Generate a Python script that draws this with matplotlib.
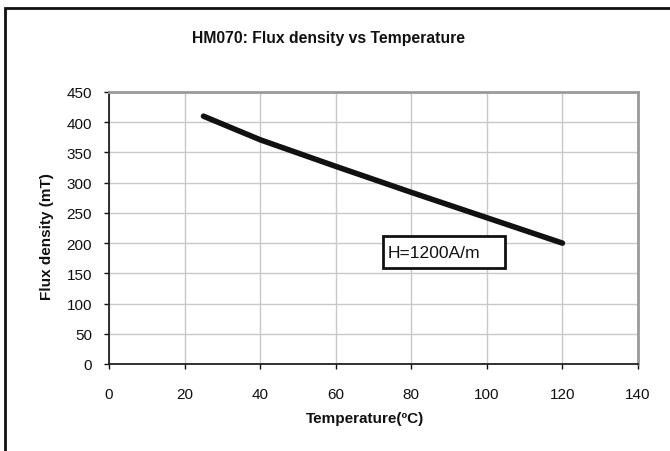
import matplotlib.pyplot as plt
from matplotlib.patches import Rectangle

plt.rcParams['font.family'] = ['Liberation Sans', 'DejaVu Sans']

temperature = [25, 40, 60, 80, 100, 120]
flux_density = [410, 371, 327, 284, 242, 200]

x_ticks = [0, 20, 40, 60, 80, 100, 120, 140]
y_ticks = [0, 50, 100, 150, 200, 250, 300, 350, 400, 450]

W, H = 670, 452
fig = plt.figure(figsize=(W / 100, H / 100), dpi=100)
ax = fig.add_axes([109 / W, 1 - 365 / H, 529 / W, 272 / H])

ax.plot(temperature, flux_density, color='#111111', lw=4,
        solid_capstyle='round', solid_joinstyle='round')

ax.set_xlim(0, 140)
ax.set_ylim(0, 450)
ax.set_xticks(x_ticks)
ax.set_yticks(y_ticks)
ax.grid(True, color='#c8c8c8', lw=1)
ax.set_axisbelow(True)
ax.tick_params(direction='out', length=3.6, width=1, labelsize=11, colors='#111111')
ax.tick_params(axis='y', pad=8.5)
ax.tick_params(axis='x', pad=13)
for s in ['top', 'right']:
    ax.spines[s].set_color('#9a9a9a')
    ax.spines[s].set_linewidth(2)
for s in ['left', 'bottom']:
    ax.spines[s].set_color('#222222')
    ax.spines[s].set_linewidth(1.3)

ax.set_xlabel('Temperature(ºC)', fontsize=11, fontweight='bold', va='center', color='#111111')
ax.xaxis.set_label_coords(0.484, -0.199)
ax.set_ylabel('Flux density (mT)', fontsize=11, fontweight='bold', va='center', color='#111111')
ax.yaxis.set_label_coords(-0.117, 0.474)

# annotation box
ax.add_patch(Rectangle((72.5, 158.8), 32.3, 53, fc='white', ec='#111111', lw=2, zorder=3))
ax.text(73.7, 185, 'H=1200A/m', fontsize=12.6, va='center', ha='left', color='#111111', zorder=4)

fig.text(328 / W, 1 - 39 / H, 'HM070: Flux density vs Temperature',
         fontsize=11.3, fontweight='bold', ha='center', va='center', color='#111111')

frame = Rectangle((5 / W, -0.05), 1.1, (H - 9) / H + 0.05, transform=fig.transFigure,
                  fill=False, ec='#111111', lw=2, clip_on=False)
fig.patches.append(frame)

fig.savefig('out.png', dpi=100)
